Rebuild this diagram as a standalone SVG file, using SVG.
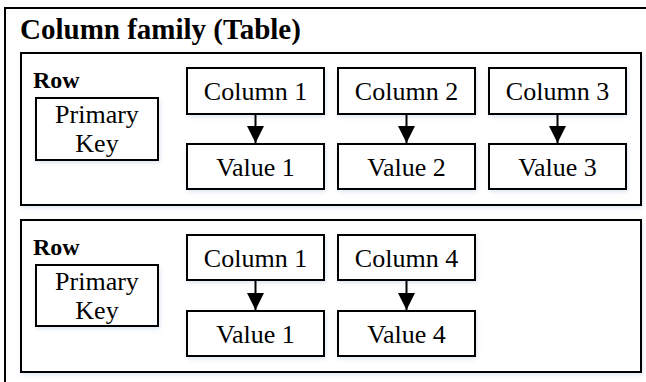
<svg xmlns="http://www.w3.org/2000/svg" width="646" height="382" viewBox="0 0 646 382">
<defs>
<style>
.box{fill:#fff;stroke:#000;stroke-width:2}
.t{font-family:"Liberation Serif","Times New Roman",serif;font-size:26px;fill:#000;text-anchor:middle}
.b{font-family:"Liberation Serif","Times New Roman",serif;font-weight:bold;fill:#000}
.edge{stroke:#000;stroke-width:2;fill:none}
</style>
<filter id="sh" x="-10%" y="-10%" width="120%" height="130%">
<feGaussianBlur in="SourceAlpha" stdDeviation="2"/>
<feOffset dx="1" dy="2" result="o"/>
<feFlood flood-color="#c8d8e8" flood-opacity="0.6"/>
<feComposite in2="o" operator="in"/>
<feMerge><feMergeNode/><feMergeNode in="SourceGraphic"/></feMerge>
</filter>
<marker id="ah" viewBox="0 0 10 10" refX="10" refY="5" markerWidth="17" markerHeight="17" markerUnits="userSpaceOnUse" orient="auto">
<path d="M0,0 L10,5 L0,10 z" fill="#000"/>
</marker>
</defs>
<rect width="646" height="382" fill="#fff"/>
<g id="table">
<rect x="5" y="8" width="650" height="390" fill="#fff" stroke="#000" stroke-width="2"/>
<text class="b" x="20" y="39" font-size="29">Column family (Table)</text>
</g>
<g id="row1">
<rect class="box" x="21" y="53" width="620" height="152" filter="url(#sh)"/>
<text class="b" x="33" y="88" font-size="24">Row</text>
</g>
<g id="row2">
<rect class="box" x="21" y="220" width="620" height="152" filter="url(#sh)"/>
<text class="b" x="33" y="255" font-size="24">Row</text>
</g>
<g id="pk1"><rect class="box" x="36" y="98" width="122" height="62" filter="url(#sh)"/><text class="t" x="97" y="123">Primary</text><text class="t" x="97" y="152">Key</text></g>
<g id="c1a"><rect class="box" x="187" y="68" width="137" height="46" filter="url(#sh)"/><text class="t" x="255.5" y="100">Column 1</text></g>
<g id="v1a"><rect class="box" x="187" y="144" width="137" height="45" filter="url(#sh)"/><text class="t" x="255.5" y="176">Value 1</text></g>
<g id="c2"><rect class="box" x="338" y="68" width="137" height="46" filter="url(#sh)"/><text class="t" x="406.5" y="100">Column 2</text></g>
<g id="v2"><rect class="box" x="338" y="144" width="137" height="45" filter="url(#sh)"/><text class="t" x="406.5" y="176">Value 2</text></g>
<g id="c3"><rect class="box" x="489" y="68" width="137" height="46" filter="url(#sh)"/><text class="t" x="557.5" y="100">Column 3</text></g>
<g id="v3"><rect class="box" x="489" y="144" width="137" height="45" filter="url(#sh)"/><text class="t" x="557.5" y="176">Value 3</text></g>
<g id="pk2"><rect class="box" x="36" y="265" width="122" height="61" filter="url(#sh)"/><text class="t" x="97" y="290">Primary</text><text class="t" x="97" y="319">Key</text></g>
<g id="c1b"><rect class="box" x="187" y="235" width="137" height="45" filter="url(#sh)"/><text class="t" x="255.5" y="267">Column 1</text></g>
<g id="v1b"><rect class="box" x="187" y="311" width="137" height="45" filter="url(#sh)"/><text class="t" x="255.5" y="343">Value 1</text></g>
<g id="c4"><rect class="box" x="338" y="235" width="137" height="45" filter="url(#sh)"/><text class="t" x="406.5" y="267">Column 4</text></g>
<g id="v4"><rect class="box" x="338" y="311" width="137" height="45" filter="url(#sh)"/><text class="t" x="406.5" y="343">Value 4</text></g>
<g id="connectors">
<line class="edge" x1="255.5" y1="114" x2="255.5" y2="143" marker-end="url(#ah)"/>
<line class="edge" x1="406.5" y1="114" x2="406.5" y2="143" marker-end="url(#ah)"/>
<line class="edge" x1="557.5" y1="114" x2="557.5" y2="143" marker-end="url(#ah)"/>
<line class="edge" x1="255.5" y1="280" x2="255.5" y2="310" marker-end="url(#ah)"/>
<line class="edge" x1="406.5" y1="280" x2="406.5" y2="310" marker-end="url(#ah)"/>
</g>
</svg>
